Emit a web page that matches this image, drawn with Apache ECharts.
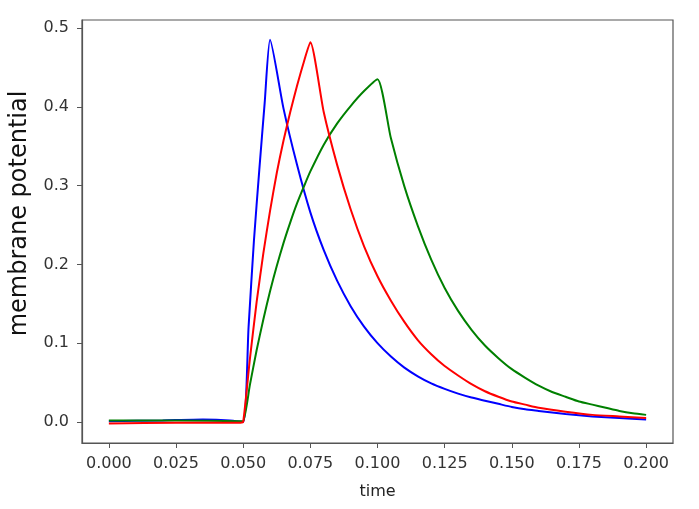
<!DOCTYPE html>
<html>
<head>
<meta charset="utf-8">
<script src="https://cdn.jsdelivr.net/npm/echarts@6/dist/echarts.min.js"></script>
<style>
  html, body { margin: 0; padding: 0; background: #fff; }
  #chart { width: 699px; height: 509px; }
</style>
</head>
<body>
<div id="chart"></div>
<script>
// membrane potential traces
const blueT = [0, 0.02, 0.035, 0.045, 0.05, 0.052, 0.054, 0.056, 0.058, 0.06, 0.065, 0.07, 0.075, 0.08, 0.085, 0.09, 0.095, 0.1, 0.105, 0.11, 0.115, 0.12, 0.125, 0.13, 0.135, 0.14, 0.145, 0.15, 0.155, 0.16, 0.17, 0.18, 0.19, 0.2]
const blueV = [0.001, 0.002, 0.003, 0.002, 0.0, 0.12, 0.23, 0.32, 0.405, 0.485, 0.398, 0.327, 0.266, 0.218, 0.179, 0.147, 0.121, 0.1, 0.083, 0.069, 0.058, 0.049, 0.042, 0.036, 0.031, 0.027, 0.023, 0.019, 0.016, 0.014, 0.010, 0.007, 0.005, 0.003]

const redT = [0, 0.025, 0.049, 0.05, 0.0525, 0.055, 0.0575, 0.06, 0.0625, 0.065, 0.0675, 0.07, 0.0725, 0.075, 0.08, 0.085, 0.09, 0.095, 0.1, 0.105, 0.11, 0.115, 0.12, 0.125, 0.13, 0.135, 0.14, 0.145, 0.15, 0.155, 0.16, 0.17, 0.18, 0.19, 0.2]
const redV = [-0.002, -0.001, -0.001, 0, 0.08, 0.152, 0.214, 0.268, 0.316, 0.357, 0.393, 0.426, 0.456, 0.482, 0.393, 0.326, 0.27, 0.223, 0.185, 0.154, 0.127, 0.104, 0.086, 0.071, 0.059, 0.048, 0.039, 0.032, 0.026, 0.022, 0.018, 0.013, 0.009, 0.007, 0.005]

const greenT = [0, 0.025, 0.049, 0.05, 0.0525, 0.055, 0.0575, 0.06, 0.0625, 0.065, 0.0675, 0.07, 0.0725, 0.075, 0.08, 0.085, 0.09, 0.095, 0.1, 0.105, 0.11, 0.115, 0.12, 0.125, 0.13, 0.135, 0.14, 0.145, 0.15, 0.155, 0.16, 0.165, 0.17, 0.175, 0.18, 0.185, 0.19, 0.195, 0.2]
const greenV = [0.002, 0.002, 0.001, 0.001, 0.047, 0.091, 0.13, 0.166, 0.198, 0.227, 0.253, 0.277, 0.298, 0.318, 0.352, 0.379, 0.401, 0.42, 0.435, 0.36, 0.299, 0.249, 0.206, 0.17, 0.141, 0.117, 0.097, 0.081, 0.067, 0.056, 0.046, 0.038, 0.032, 0.026, 0.022, 0.018, 0.014, 0.011, 0.009]

const xTicks = [0, 0.025, 0.05, 0.075, 0.1, 0.125, 0.15, 0.175, 0.2]
const yTicks = [0, 0.1, 0.2, 0.3, 0.4, 0.5]

const pairs = (ts, vs) => ts.map((t, i) => [t, vs[i]])

const frame = '#555'
const font = 'DejaVu Sans'

const chart = echarts.init(document.getElementById('chart'))
chart.setOption({
  animation: false,
  grid: {
    left: 80, right: 26, top: 20, bottom: 66,
    show: true, borderColor: frame, borderWidth: 1.2
  },
  xAxis: {
    type: 'value',
    min: -0.01,
    max: 0.21,
    name: 'time',
    nameLocation: 'middle',
    nameGap: 41,
    nameTextStyle: { color: '#222', fontSize: 16, fontFamily: font },
    axisLine: { show: true, onZero: false, lineStyle: { color: frame, width: 1.2 } },
    axisTick: { show: true, length: 5, customValues: xTicks, lineStyle: { color: frame } },
    axisLabel: {
      customValues: xTicks, margin: 13, color: '#333', fontSize: 16, fontFamily: font,
      formatter: v => v.toFixed(3)
    },
    splitLine: { show: false }
  },
  yAxis: {
    type: 'value',
    min: -0.0267,
    max: 0.5102,
    name: 'membrane potential',
    nameLocation: 'middle',
    nameGap: 50,
    nameTextStyle: { color: '#111', fontSize: 24, fontFamily: font, padding: [0, 0, 0, 36] },
    axisLine: { show: true, onZero: false, lineStyle: { color: frame, width: 1.2 } },
    axisTick: { show: true, length: 5, customValues: yTicks, lineStyle: { color: frame } },
    axisLabel: {
      customValues: yTicks, margin: 13, color: '#333', fontSize: 16, fontFamily: font,
      formatter: v => v.toFixed(1)
    },
    splitLine: { show: false }
  },
  series: [
    { type: 'line', data: pairs(blueT, blueV), showSymbol: false, smooth: 0.2, lineStyle: { color: '#0000ff', width: 2 }, z: 2 },
    { type: 'line', data: pairs(greenT, greenV), showSymbol: false, smooth: 0.2, lineStyle: { color: '#008000', width: 2 }, z: 3 },
    { type: 'line', data: pairs(redT, redV), showSymbol: false, smooth: 0.2, lineStyle: { color: '#ff0000', width: 2 }, z: 4 }
  ]
})
</script>
</body>
</html>
